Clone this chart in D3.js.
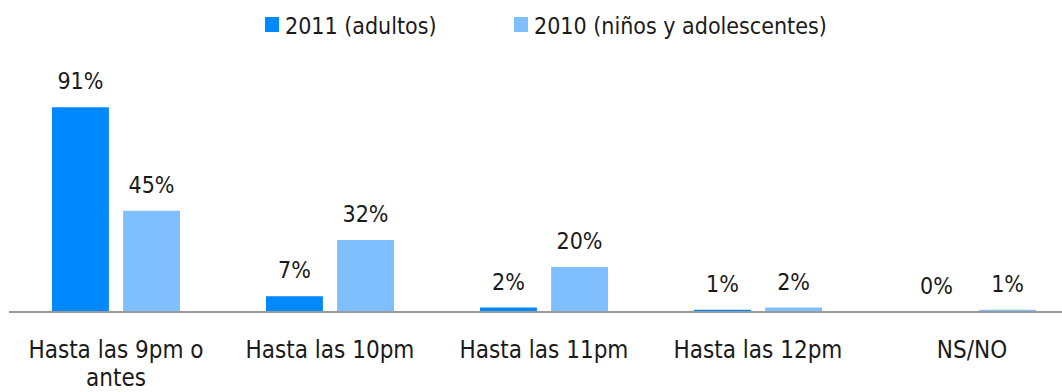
<!DOCTYPE html>
<html>
<head>
<meta charset="utf-8">
<script src="https://cdn.jsdelivr.net/npm/d3@7"></script>
<style>
  html, body { margin: 0; padding: 0; background: #fff; }
  svg { display: block; }
  text { font-family: "DejaVu Sans Condensed", "Liberation Sans Narrow", sans-serif; fill: #1a1a1a; }
</style>
</head>
<body>
<svg id="chart" width="1062" height="392"></svg>
<script>
// Hora de acostarse: 2011 (adultos) vs 2010 (niños y adolescentes)
const categories = ["Hasta las 9pm o antes", "Hasta las 10pm", "Hasta las 11pm", "Hasta las 12pm", "NS/NO"];
const seriesNames = ["2011 (adultos)", "2010 (niños y adolescentes)"];
const values2011 = [91, 7, 2, 1, 0];
const values2010 = [45, 32, 20, 2, 1];
const colors = ["#0088ff", "#7fbfff"];

const svg = d3.select("#chart");
const W = 1062, H = 392;
const baseY = 312;

const x0 = d3.scaleBand().domain(categories).range([9, 1079]).paddingInner(0).paddingOuter(0);
const x1 = d3.scaleBand().domain(seriesNames).range([43, x0.bandwidth() - 43]).paddingInner(0.2).paddingOuter(0);
const y = d3.scaleLinear().domain([0, 100]).range([baseY, baseY - 225]);

const rows = categories.map((c, i) => ({ cat: c, vals: [values2011[i], values2010[i]] }));

const groups = svg.selectAll("g.grp").data(rows).join("g")
  .attr("class", "grp")
  .attr("transform", d => `translate(${x0(d.cat)},0)`);

groups.selectAll("rect").data(d => d.vals.map((v, j) => ({ v, s: seriesNames[j], j }))).join("rect")
  .attr("x", d => x1(d.s))
  .attr("y", d => y(d.v))
  .attr("width", x1.bandwidth())
  .attr("height", d => baseY - y(d.v))
  .attr("fill", d => colors[d.j]);

groups.selectAll("text.val").data(d => d.vals.map((v, j) => ({ v, s: seriesNames[j] }))).join("text")
  .attr("class", "val")
  .attr("x", d => x1(d.s) + x1.bandwidth() / 2)
  .attr("y", d => y(d.v) - 18)
  .attr("text-anchor", "middle")
  .attr("font-size", 23)
  .text(d => d.v + "%");

// x axis baseline
const xAxis = d3.axisBottom(x0).tickSize(0).tickPadding(0).tickFormat("");
const axisG = svg.append("g").attr("transform", `translate(0,${baseY})`).call(xAxis);
axisG.select(".domain").attr("stroke", "#9a9a9a").attr("stroke-width", 2).attr("d", `M9,0H${W}`);

// category labels with wrapping
function wrap(textSel, width) {
  textSel.each(function() {
    const t = d3.select(this);
    const words = t.text().split(/\s+/);
    t.text(null);
    let line = [];
    let tspan = t.append("tspan").attr("x", t.attr("x")).attr("dy", 0);
    for (const w of words) {
      line.push(w);
      tspan.text(line.join(" "));
      if (tspan.node().getComputedTextLength() > width && line.length > 1) {
        line.pop();
        tspan.text(line.join(" "));
        line = [w];
        tspan = t.append("tspan").attr("x", t.attr("x")).attr("dy", 28).text(w);
      }
    }
  });
}

svg.append("g").selectAll("text").data(categories).join("text")
  .attr("x", d => x0(d) + x0.bandwidth() / 2)
  .attr("y", 358)
  .attr("text-anchor", "middle")
  .attr("font-size", 24)
  .text(d => d)
  .call(wrap, 195);

// legend
const legend = svg.append("g");
const legendItems = [{ name: seriesNames[0], c: colors[0], x: 265 }, { name: seriesNames[1], c: colors[1], x: 514 }];
legendItems.forEach(it => {
  legend.append("rect").attr("x", it.x).attr("y", 17).attr("width", 14).attr("height", 15).attr("fill", it.c);
  legend.append("text").attr("x", it.x + 20).attr("y", 34).attr("font-size", 23).text(it.name);
});
</script>
</body>
</html>
